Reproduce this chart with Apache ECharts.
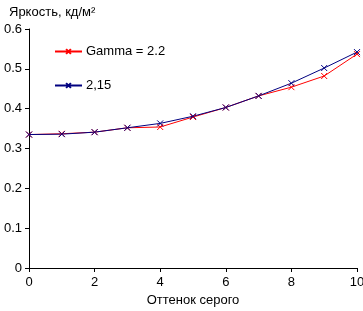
<!DOCTYPE html>
<html>
<head>
<meta charset="utf-8">
<script src="https://cdn.jsdelivr.net/npm/echarts@6/dist/echarts.min.js"></script>
<style>
html, body { margin: 0; padding: 0; background: #fff; }
#chart { width: 363px; height: 311px; }
</style>
</head>
<body>
<div id="chart"></div>
<script>
var shades = [0, 1, 2, 3, 4, 5, 6, 7, 8, 9, 10];
var gamma22 = [0.335, 0.337, 0.341, 0.352, 0.354, 0.379, 0.403, 0.432, 0.454, 0.482, 0.537];
var gamma215 = [0.335, 0.336, 0.341, 0.352, 0.363, 0.381, 0.403, 0.432, 0.464, 0.502, 0.542];

function pairs(vals) {
	return shades.map(function (x, i) { return [x, vals[i]]; });
}

var font = 'Liberation Sans, Arial, sans-serif';
var cross = 'path://M0,0L10,10M10,0L0,10';

var chart = echarts.init(document.getElementById('chart'));
chart.setOption({
	animation: false,
	title: {
		text: 'Яркость, кд/м²',
		left: 4,
		top: 1,
		textStyle: { fontFamily: font, fontSize: 13, fontWeight: 'normal', color: '#000' }
	},
	legend: {
		orient: 'vertical',
		left: 49,
		top: 40,
		itemGap: 21,
		itemWidth: 27,
		itemHeight: 6,
		textStyle: { fontFamily: font, fontSize: 13, color: '#000', padding: [0, 0, 0, -1] },
		data: ['Gamma = 2.2', '2,15']
	},
	grid: { left: 29, right: 6, top: 29, bottom: 43, outerBoundsMode: 'none' },
	xAxis: {
		type: 'value',
		min: 0, max: 10, interval: 2,
		name: 'Оттенок серого',
		nameLocation: 'middle',
		nameGap: 25,
		nameTextStyle: { fontFamily: font, fontSize: 13, color: '#000' },
		axisLine: { lineStyle: { color: '#000' } },
		axisTick: { show: true, length: 4, lineStyle: { color: '#000' } },
		axisLabel: { fontFamily: font, fontSize: 13, color: '#000', margin: 8 },
		splitLine: { show: false }
	},
	yAxis: {
		type: 'value',
		min: 0, max: 0.6, interval: 0.1,
		axisLine: { show: true, lineStyle: { color: '#000' } },
		axisTick: { show: true, length: 4, lineStyle: { color: '#000' } },
		axisLabel: { fontFamily: font, fontSize: 13, color: '#000', margin: 7 },
		splitLine: { show: false }
	},
	series: [
		{
			name: 'Gamma = 2.2',
			type: 'line',
			data: pairs(gamma22),
			symbol: cross,
			symbolSize: 6,
			lineStyle: { color: '#ff0000', width: 1 },
			itemStyle: { color: '#ff0000', borderColor: '#ff0000', borderWidth: 1 }
		},
		{
			name: '2,15',
			type: 'line',
			data: pairs(gamma215),
			symbol: cross,
			symbolSize: 6,
			lineStyle: { color: '#000080', width: 1 },
			itemStyle: { color: '#000080', borderColor: '#000080', borderWidth: 1 }
		}
	]
});
</script>
</body>
</html>
